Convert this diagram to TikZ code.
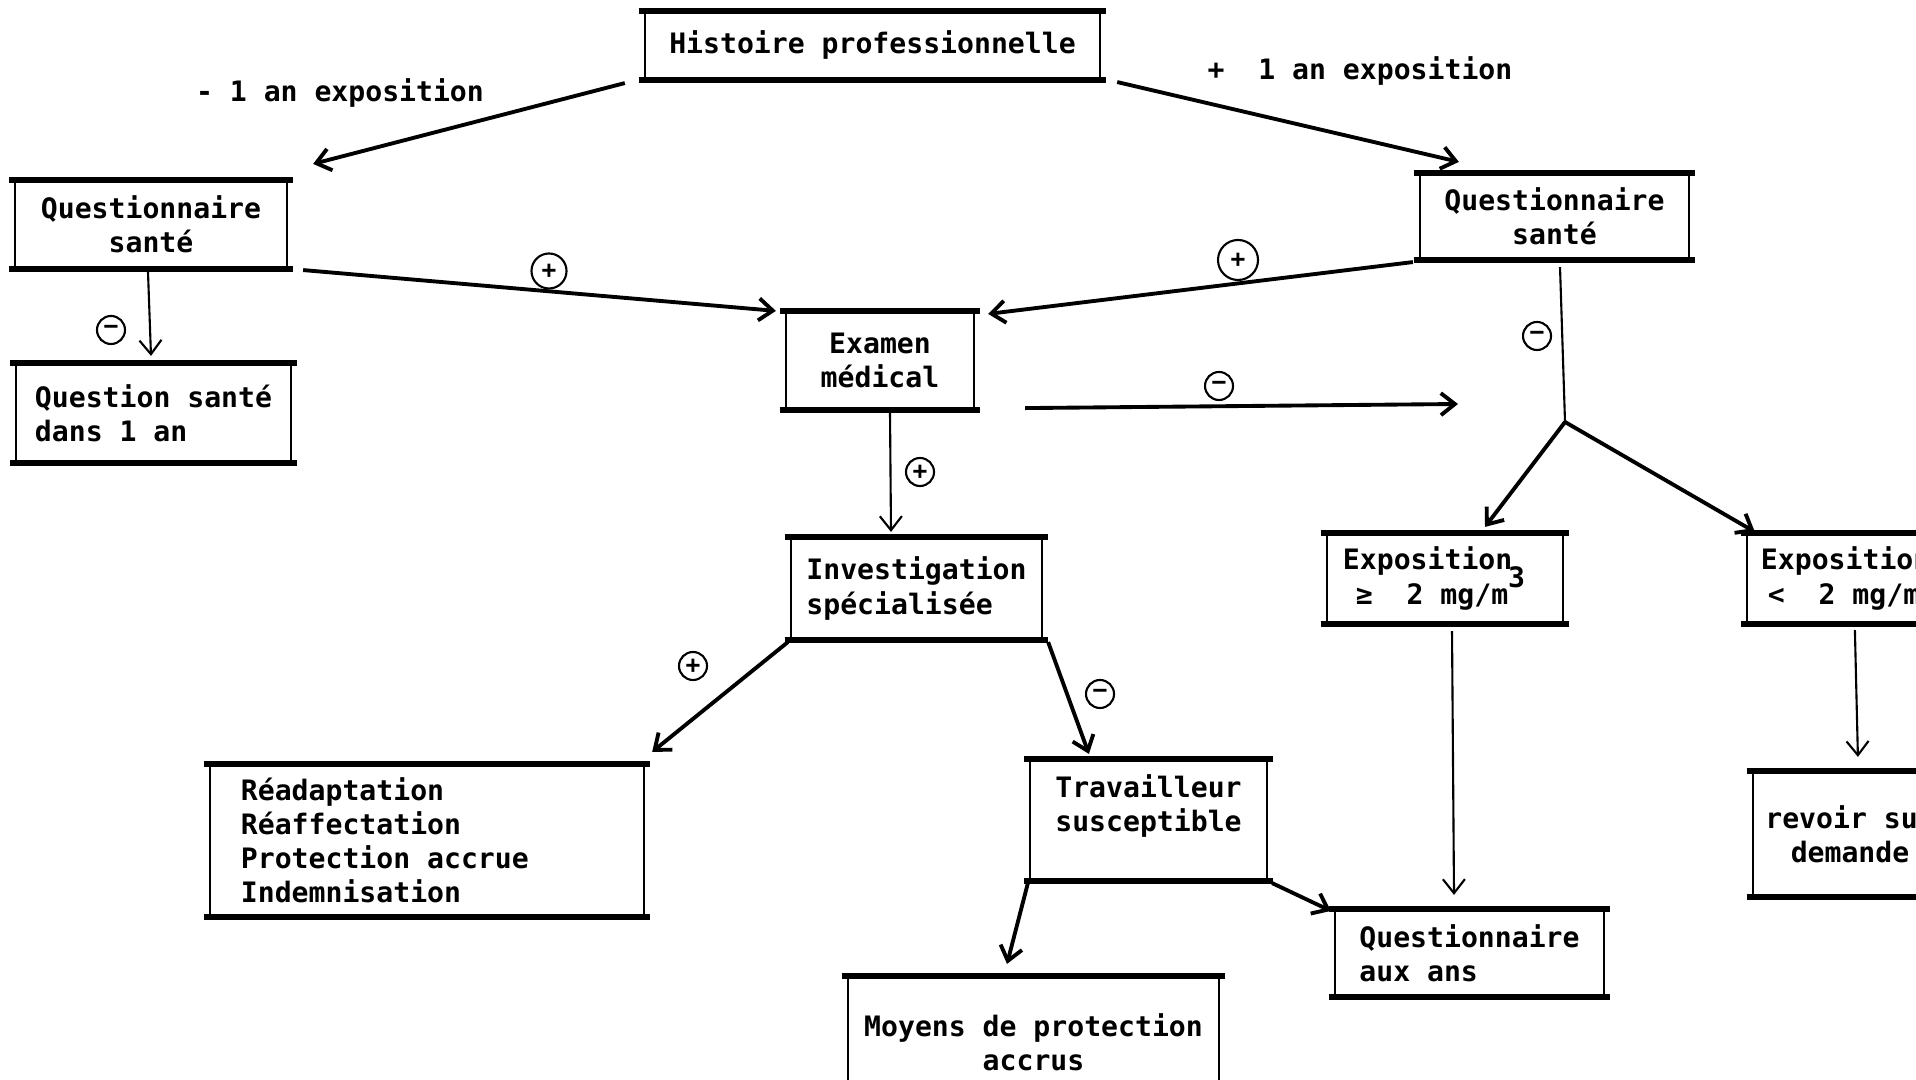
\documentclass[tikz,border=0pt]{standalone}
\usepackage{fontspec}
\newfontfamily\tw{DejaVu Sans Mono}[WordSpace={1,0,0}]
\newcommand\monosp{\spaceskip=4.8pt\relax\xspaceskip=4.8pt\relax}
\usetikzlibrary{arrows.meta,calc}
\begin{document}
\begin{tikzpicture}[x=0.01cm, y=-0.01cm,
  txt/.style={font=\tw\bfseries\fontsize{8}{9.7}\selectfont\monosp},
  rule/.style={line width=1.6pt, shorten <=-1.5pt, shorten >=-1.5pt},
  box/.style={txt, draw, line width=0.6pt, inner sep=0pt,
    append after command={
      (\tikzlastnode.north west) edge[rule] (\tikzlastnode.north east)
      (\tikzlastnode.south west) edge[rule] (\tikzlastnode.south east)}},
  arr/.style={line width=1.1pt, -{Straight Barb[length=1.4mm,width=2.2mm]}},
  tarr/.style={line width=0.6pt, -{Straight Barb[length=1.4mm,width=2.2mm]}},
  sgn/.style={circle, draw, line width=0.6pt, inner sep=0pt, minimum size=2.8mm,
    font=\tw\bfseries\fontsize{7}{7}\selectfont},
]
\useasboundingbox (0,0) rectangle (1916,1080);
\clip (0,0) rectangle (1916,1080);

% boxes
\node[box, align=center, minimum width=4.55cm, minimum height=0.67cm] (hist) at (872.5,45.5) {Histoire professionnelle};
\node[box, align=center, minimum width=2.72cm, minimum height=0.87cm] (qL) at (151,224.5) {Questionnaire\\santé};
\node[box, align=left, minimum width=2.75cm, minimum height=0.98cm] (qD) at (153.5,413) {Question santé\\dans 1 an};
\node[box, align=center, minimum width=1.88cm, minimum height=0.97cm] (exam) at (880,360.5) {Examen\\médical};
\node[box, align=center, minimum width=2.69cm, minimum height=0.85cm] (qR) at (1554.5,216.5) {Questionnaire\\santé};
\node[box, align=left, minimum width=2.51cm, minimum height=1.01cm] (inv) at (916.5,588.5) {Investigation\\spécialisée};
\node[box, align=left, text width=2.04cm, inner xsep=0.16cm, minimum height=0.89cm] (exG) at (1445,578.5) {\monosp Exposition\\\hspace*{1.3mm}≥\ \ 2 mg/m\smash{\raisebox{1.1ex}{3}}};
\node[box, align=left, text width=2.08cm, inner xsep=0.14cm, minimum height=0.89cm] (exL) at (1865,578.5) {\monosp Exposition\\\hspace*{0.7mm}<\ \ 2 mg/m\smash{\raisebox{1.1ex}{3}}};
\node[box, align=left, text width=3.72cm, inner xsep=0.31cm, minimum height=1.51cm] (read) at (427,840.5) {\monosp Réadaptation\\Réaffectation\\Protection accrue\\Indemnisation};
\node[box, align=left, minimum width=2.37cm, minimum height=1.2cm] (trav) at (1148.5,820) {Travailleur\\susceptible\\\mbox{}};
\node[box, align=center, minimum width=3.71cm, minimum height=1.3cm] (moy) at (1033.5,1042) {Moyens de protection\\accrus};
\node[box, align=left, minimum width=2.69cm, minimum height=0.86cm] (qA) at (1469.5,953) {Questionnaire\\aux ans};
\node[box, align=center, minimum width=1.94cm, minimum height=1.24cm] (rev) at (1850,834) {revoir sur\\demande};

% labels
\node[txt] (lm) at (340,93) {- 1 an exposition};
\node[txt] (lp) at (1360,71) {+\ \ 1 an exposition};

% junction points
\coordinate (J) at (1565,422);
\coordinate (Jend) at (1458,404);

% connectors
\draw[arr] ($(hist.south west)+(-19,3)$) -- ($(qL.north east)+(25,-16)$);
\draw[arr] ($(hist.south east)+(16,2)$) -- ($(qR.north west)+(40,-11)$);
\draw[arr] ($(qL.south east)+(15,1)$) -- ($(exam.north west)+(-9,0)$);
\draw[arr] ($(qR.south west)+(-6,2)$) -- ($(exam.north east)+(13,3)$);
\draw[tarr] ($(qL.south)+(-3,3)$) -- ($(qD.north)+(-2.5,-7)$);
\draw[arr] ($(exam.south east)+(50,-2)$) -- (Jend);
\draw[line width=0.6pt] ($(qR.south)+(5.5,7)$) -- (J);
\draw[arr] (J) -- ($(exG.north)+(40,-6)$);
\draw[arr] (J) -- ($(exL.north west)+(9,-1)$);
\draw[tarr] ($(exam.south)+(10,3)$) -- ($(inv.north)+(-25.5,-5)$);
\draw[arr] ($(inv.south west)+(-2,2)$) -- ($(read.north east)+(7,-12)$);
\draw[arr] ($(inv.south east)+(5,2)$) -- ($(trav.north west)+(60,-5)$);
\draw[arr] ($(trav.south west)+(-1,2)$) -- ($(moy.north)+(-26.5,-12)$);
\draw[arr] ($(trav.south east)+(4,2)$) -- ($(qA.north west)+(-3,2)$);
\draw[tarr] ($(exG.south)+(7,7)$) -- ($(qA.north)+(-15.5,-14)$);
\draw[tarr] ($(exL.south west)+(109,6)$) -- ($(rev.north west)+(106,-14)$);

% signs
\node[sgn, minimum size=3.5mm] (s1) at (549,271) {+};
\node[sgn, minimum size=4mm] (s2) at (1238,260) {+};
\node[sgn] (s3) at (111,330) {−};
\node[sgn] (s4) at (1219,386) {−};
\node[sgn] (s5) at (1537,336) {−};
\node[sgn] (s6) at (920,472) {+};
\node[sgn] (s7) at (693,666) {+};
\node[sgn] (s8) at (1100,694) {−};
\end{tikzpicture}
\end{document}
